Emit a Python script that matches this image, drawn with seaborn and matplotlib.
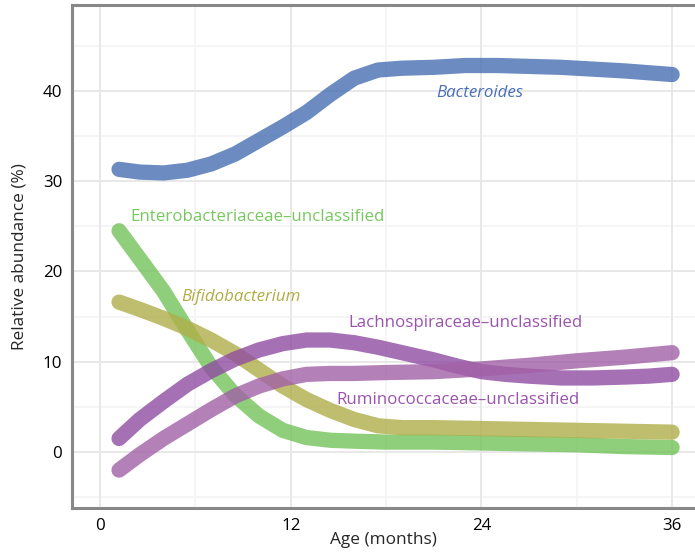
import matplotlib
matplotlib.use("Agg")
import matplotlib.pyplot as plt
import seaborn as sns
import pandas as pd

# Smoothed relative abundance (%) of the dominant taxa by infant age (months)
bacteroides_age = [1.2, 2.5, 4, 5.5, 7, 8.5, 10, 11.5, 13, 14.5, 16, 17.5, 19, 21, 23, 25, 27, 29, 31, 33, 34.5, 36]
bacteroides = [31.3, 31.0, 30.9, 31.2, 31.9, 33.0, 34.5, 36.0, 37.6, 39.6, 41.4, 42.3, 42.5, 42.6, 42.8, 42.8, 42.7, 42.6, 42.4, 42.2, 42.0, 41.8]

entero_age = [1.2, 2.5, 4, 5.5, 7, 8.5, 10, 11.5, 13, 14.5, 16, 18, 21, 24, 27, 30, 33, 36]
enterobacteriaceae = [24.5, 21.4, 17.8, 13.5, 9.4, 6.3, 4.0, 2.4, 1.6, 1.3, 1.2, 1.1, 1.1, 1.0, 0.9, 0.8, 0.6, 0.5]

bifido_age = [1.2, 2.5, 4, 5.5, 7, 8.5, 10, 11.5, 13, 14.5, 16, 17.5, 19, 21, 24, 27, 30, 33, 36]
bifidobacterium = [16.6, 15.8, 14.8, 13.7, 12.4, 10.9, 9.1, 7.3, 5.8, 4.6, 3.6, 2.9, 2.7, 2.7, 2.6, 2.5, 2.4, 2.3, 2.2]

lachno_age = [1.2, 2.5, 4, 5.5, 7, 8.5, 10, 11.5, 13, 14.5, 16, 17.5, 19, 21, 22.5, 24, 25.5, 27, 29, 31, 33, 34.5, 36]
lachnospiraceae = [1.5, 3.6, 5.6, 7.5, 9.0, 10.3, 11.3, 12.0, 12.4, 12.4, 12.1, 11.6, 11.0, 10.2, 9.5, 8.9, 8.6, 8.4, 8.2, 8.2, 8.3, 8.4, 8.6]

rumino_age = [1.2, 2.5, 4, 5.5, 7, 8.5, 10, 11.5, 13, 14.5, 16, 18, 21, 24, 27, 30, 33, 36]
ruminococcaceae = [-2.0, -0.3, 1.5, 3.1, 4.7, 6.2, 7.3, 8.1, 8.6, 8.7, 8.7, 8.8, 8.9, 9.2, 9.6, 10.1, 10.5, 11.0]

taxa = ["Bacteroides", "Enterobacteriaceae\u2013unclassified", "Bifidobacterium",
        "Lachnospiraceae\u2013unclassified", "Ruminococcaceae\u2013unclassified"]
ages = [bacteroides_age, entero_age, bifido_age, lachno_age, rumino_age]
series = [bacteroides, enterobacteriaceae, bifidobacterium, lachnospiraceae, ruminococcaceae]
line_colors = ["#466eb2", "#73c259", "#b0ae4a", "#904ca1", "#a160a7"]
text_colors = ["#4a6fb8", "#78c860", "#b2ac44", "#9a54ac", "#9a54ac"]
italic = [True, False, True, False, False]
label_xy = [(23.9, 39.7), (9.9, 26.0), (8.9, 17.2), (23.0, 14.3), (22.5, 5.8)]

x_ticks = [0, 12, 24, 36]
y_ticks = [0, 10, 20, 30, 40]

df = pd.DataFrame({
    "age": [a for ag in ages for a in ag],
    "abundance": [v for s in series for v in s],
    "taxon": [t for t, ag in zip(taxa, ages) for _ in ag],
})

sns.set_theme(style="white")
plt.rcParams["font.family"] = ["Open Sans", "DejaVu Sans"]

fig = plt.figure(figsize=(6.95, 5.57), dpi=100)
ax = fig.add_axes([72 / 695, 49 / 557, 623 / 695, 503 / 557])

ax.set_xlim(-1.76, 37.44)
ax.set_ylim(-6.2, 49.5)

# grid: major and minor lines
for v in [-5, 5, 15, 25, 35, 45]:
    ax.axhline(v, color="#f4f4f4", lw=1.2, zorder=0)
for v in [6, 18, 30]:
    ax.axvline(v, color="#f4f4f4", lw=1.2, zorder=0)
for v in y_ticks:
    ax.axhline(v, color="#e8e8e8", lw=1.4, zorder=0)
for v in x_ticks:
    ax.axvline(v, color="#e8e8e8", lw=1.4, zorder=0)

sns.lineplot(data=df, x="age", y="abundance", hue="taxon", hue_order=taxa,
             palette=dict(zip(taxa, line_colors)), linewidth=11, alpha=0.8,
             legend=False, ax=ax, solid_capstyle="round", solid_joinstyle="round",
             sort=True, estimator=None)

for t, (lx, ly), c, it in zip(taxa, label_xy, text_colors, italic):
    ax.text(lx, ly, t, color=c, fontsize=12.2, ha="center", va="center",
            style="italic" if it else "normal")

ax.set_xticks(x_ticks)
ax.set_yticks(y_ticks)
ax.set_xticklabels([str(v) for v in x_ticks])
ax.set_yticklabels([str(v) for v in y_ticks])
ax.tick_params(axis="both", direction="out", length=5, width=2, color="black",
               labelsize=12.2, labelcolor="black", pad=2)
ax.set_xlabel("Age (months)", fontsize=12.4, labelpad=-1)
ax.set_ylabel("Relative abundance (%)", fontsize=12.4, labelpad=11)

for side in ["left", "bottom", "top"]:
    ax.spines[side].set_color("#888888")
    ax.spines[side].set_linewidth(2.2)
    ax.spines[side].set_visible(True)
ax.spines["right"].set_visible(False)

fig.savefig("out.png", dpi=100)
